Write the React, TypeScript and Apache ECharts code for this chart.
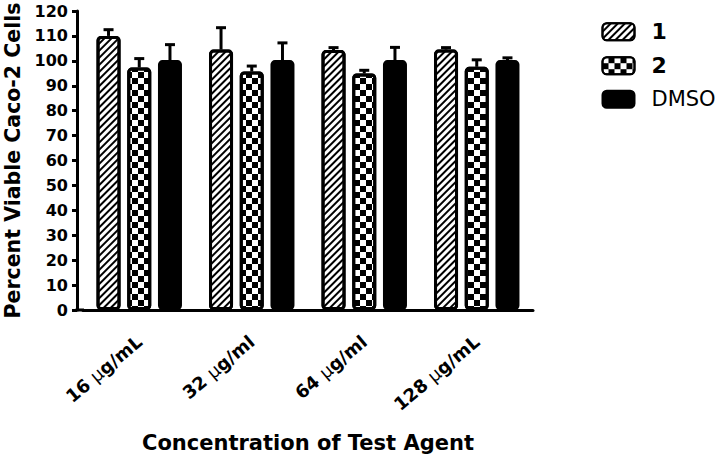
import React, { useEffect, useRef } from "react";
import * as echarts from "echarts";

const categories = ["16 μg/mL", "32 μg/ml", "64 μg/ml", "128 μg/mL"];
const seriesNames = ["1", "2", "DMSO"];
const values1 = [110, 104.5, 104.3, 104.5];
const errors1 = [2.5, 8.8, 1, 0.8];
const values2 = [97.3, 95.7, 94.9, 97.6];
const errors2 = [3.6, 2.2, 1.3, 2.8];
const valuesDmso = [100.3, 100.3, 100.3, 100.3];
const errorsDmso = [6.2, 6.9, 5.1, 0.9];
const yTicks = { min: 0, max: 120, interval: 10 };

const FONT = "'DejaVu Sans', 'Liberation Sans', sans-serif";
const GRID = { left: 83, right: 189, top: 11, bottom: 148 };
const Y_OFFSET = 6;
const BAR_W = 24;
const BAR_GAP = 0.28;

export default function App() {
  const ref = useRef<HTMLDivElement>(null);
  useEffect(() => {
    if (!ref.current) return;
    const chart = echarts.init(ref.current, undefined, { renderer: "svg" });
    const allValues = [values1, values2, valuesDmso];
    const allErrors = [errors1, errors2, errorsDmso];
    const errData: number[][] = [];
    allValues.forEach((vals, s) => {
      vals.forEach((v, i) => errData.push([i, v, allErrors[s][i], s]));
    });
    const step = BAR_W * (1 + BAR_GAP);
    const decals: any[] = [
      {
        symbol: "rect",
        symbolSize: 1,
        color: "#000",
        dashArrayX: [1, 0],
        dashArrayY: [2, 3],
        rotation: -Math.PI / 4,
      },
      {
        symbol: "rect",
        symbolSize: 1,
        color: "#000",
        dashArrayX: [
          [6, 6],
          [0, 6, 6, 0],
        ],
        dashArrayY: [6, 0],
      },
      null,
    ];
    const fills = ["#fff", "#fff", "#000"];
    const H = 458;
    const axisY = H - GRID.bottom;
    chart.setOption({
      animation: false,
      backgroundColor: "#fff",
      grid: { ...GRID, containLabel: false, outerBoundsMode: "none" },
      legend: {
        left: 601.5,
        top: 20.7,
        padding: 0,
        orient: "vertical",
        itemWidth: 32,
        itemHeight: 17,
        itemGap: 12,
        data: seriesNames,
        formatter: (n: string) => (n === "DMSO" ? `{r|${n}}` : `{b|${n}}`),
        textStyle: {
          color: "#000",
          fontFamily: FONT,
          fontSize: 22,
          rich: {
            b: { fontWeight: "bold", fontSize: 22, fontFamily: FONT, color: "#000", padding: [0, 0, 0, 12] },
            r: { fontWeight: "normal", fontSize: 21, fontFamily: FONT, color: "#000", padding: [0, 0, 0, 12] },
          },
        },
      },
      xAxis: {
        type: "category",
        data: categories,
        axisLine: { lineStyle: { color: "#000", width: 3 } },
        axisTick: { alignWithLabel: true, length: 6, lineStyle: { color: "#000", width: 3 } },
        axisLabel: {
          rotate: 40,
          margin: 29,
          color: "#000",
          fontFamily: FONT,
          fontWeight: "bold",
          fontSize: 18,
          formatter: (v: string) => v.replace("μ", "{m|μ}"),
          rich: { m: { fontWeight: "normal", fontFamily: FONT, fontSize: 18, color: "#000" } },
        },
        name: "Concentration of Test Agent",
        nameLocation: "middle",
        nameGap: 122,
        nameTextStyle: { color: "#000", fontFamily: FONT, fontWeight: "bold", fontSize: 21 },
      },
      yAxis: {
        type: "value",
        ...yTicks,
        offset: Y_OFFSET,
        splitLine: { show: false },
        axisLine: { show: true, lineStyle: { color: "#000", width: 3 } },
        axisTick: { show: true, length: 5, lineStyle: { color: "#000", width: 3 } },
        axisLabel: { margin: 9, color: "#000", fontFamily: FONT, fontWeight: "bold", fontSize: 16 },
        name: "Percent Viable Caco-2 Cells",
        nameLocation: "middle",
        nameGap: 52,
        nameTextStyle: { color: "#000", fontFamily: FONT, fontWeight: "bold", fontSize: 20.5 },
      },
      graphic: [
        {
          type: "line",
          shape: { x1: GRID.left - Y_OFFSET - 1.5, y1: axisY, x2: GRID.left + 1, y2: axisY },
          style: { stroke: "#000", lineWidth: 3 },
          z: 10,
        },
      ],
      series: [
        ...seriesNames.map((name, s) => ({
          type: "bar",
          name,
          data: allValues[s],
          barWidth: BAR_W,
          barGap: `${BAR_GAP * 100}%`,
          z: 3,
          itemStyle: {
            color: fills[s],
            borderColor: "#000",
            borderWidth: 3,
            borderRadius: 3,
            ...(decals[s] ? { decal: decals[s] } : {}),
          },
        })),
        {
          type: "custom",
          name: "err",
          z: 1,
          data: errData,
          encode: { x: 0, y: 1 },
          renderItem: (params: any, api: any) => {
            const cat = api.value(0);
            const v = api.value(1);
            const e = api.value(2);
            const s = api.value(3);
            const base = api.coord([cat, v]);
            const top = api.coord([cat, v + e]);
            const x = base[0] + (s - 1) * step;
            return {
              type: "group",
              children: [
                { type: "line", shape: { x1: x, y1: base[1], x2: x, y2: top[1] }, style: { stroke: "#000", lineWidth: 3 } },
                { type: "line", shape: { x1: x - 5, y1: top[1], x2: x + 5, y2: top[1] }, style: { stroke: "#000", lineWidth: 3 } },
              ],
            };
          },
        },
      ],
    });
    return () => chart.dispose();
  }, []);
  return <div ref={ref} style={{ width: 722, height: 458, position: "absolute", left: 0, top: 0 }} />;
}
